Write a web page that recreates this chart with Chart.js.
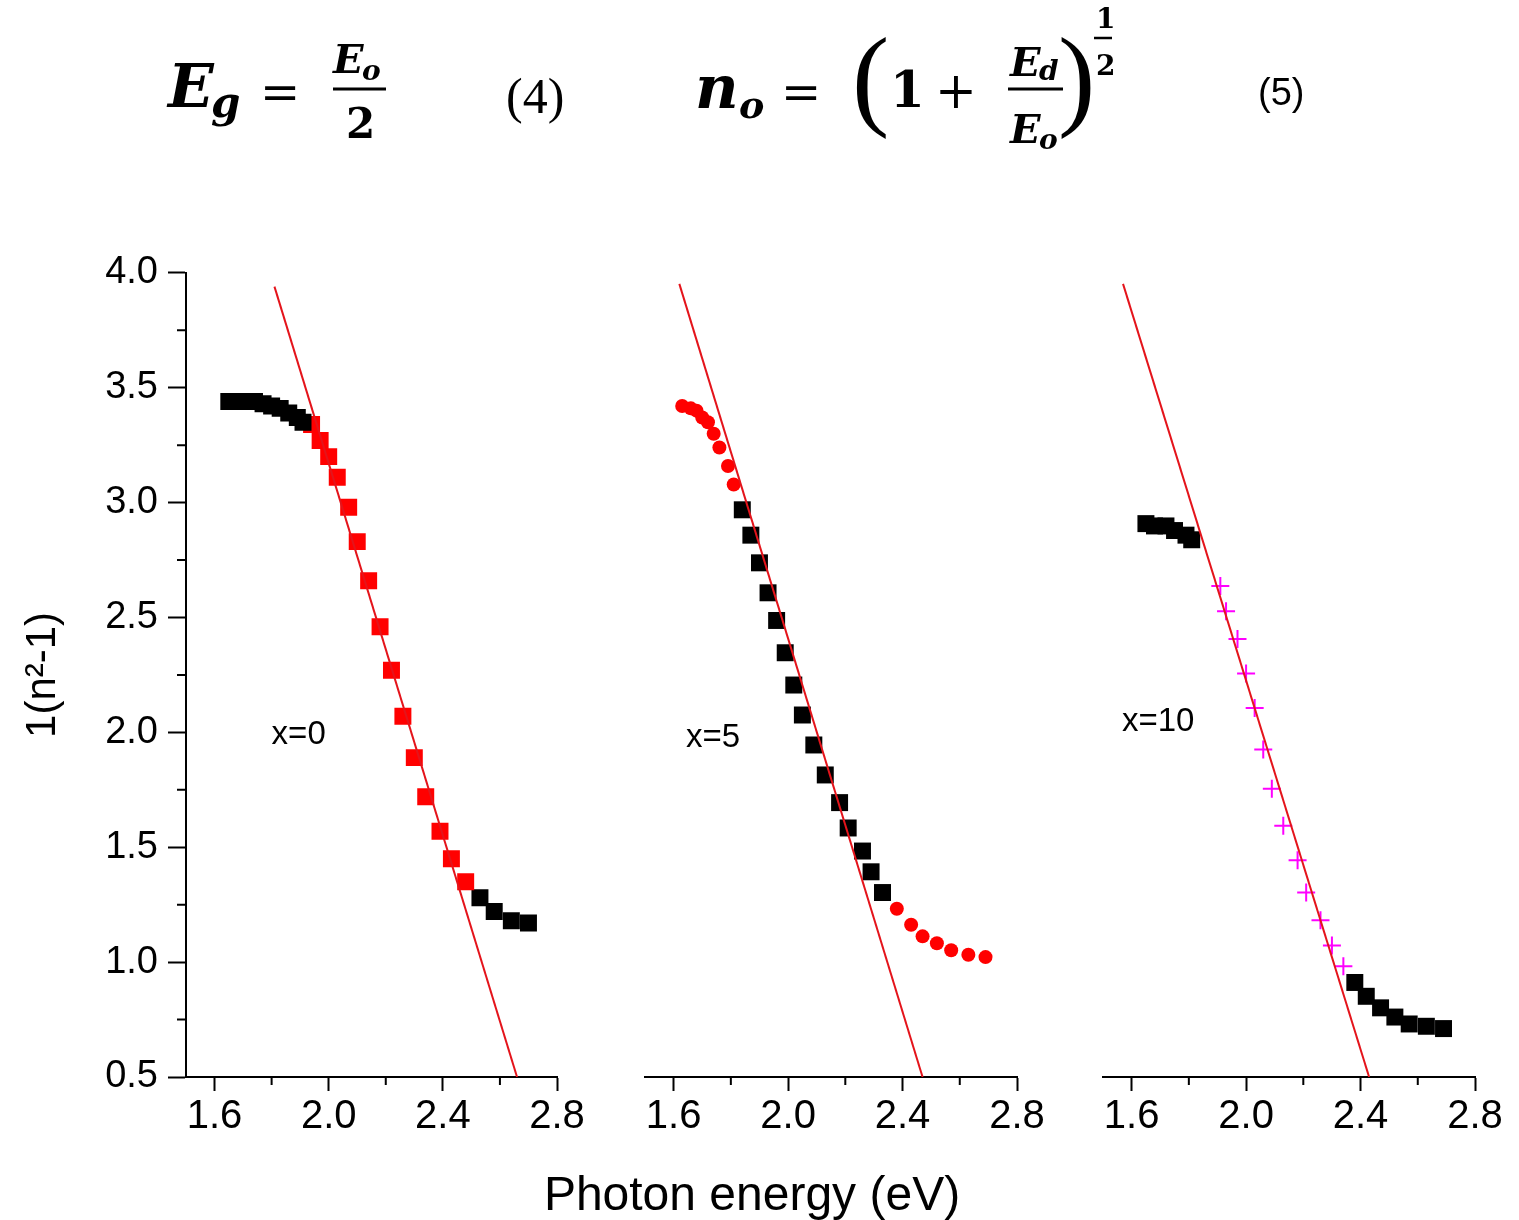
<!DOCTYPE html>
<html>
<head>
<meta charset="utf-8">
<title>1/(n2-1) vs photon energy</title>
<script src="https://cdn.jsdelivr.net/npm/chart.js@4.4.1/dist/chart.umd.min.js"></script>
<style>
  html, body { margin:0; padding:0; background:#fff; }
  #page { position:relative; width:1519px; height:1220px; overflow:hidden; }
  canvas { position:absolute; top:240px; }
  #c0 { left:0; }
  #c5 { left:600px; }
  #c10 { left:1060px; }
  svg { position:absolute; left:0; top:0; }
</style>
</head>
<body>
<div id="page">
<canvas id="c0" width="600" height="900" style="width:600px;height:900px"></canvas>
<canvas id="c5" width="460" height="900" style="width:460px;height:900px"></canvas>
<canvas id="c10" width="459" height="900" style="width:459px;height:900px"></canvas>
<svg width="1519" height="1220" viewBox="0 0 1519 1220">
  <g font-family="'DejaVu Serif', serif" font-weight="bold" fill="#000">
    <text x="168" y="107" font-size="60" font-style="italic">E</text>
    <text x="211" y="117" font-size="42" font-style="italic">g</text>
    <text x="260" y="109" font-size="48" font-weight="normal">=</text>
    <text x="333" y="73" font-size="40" font-style="italic">E</text>
    <text x="362" y="80" font-size="28" font-style="italic">o</text>
    <line x1="333" y1="89" x2="386" y2="89" stroke="#000" stroke-width="3"/>
    <text x="346" y="138" font-size="42">2</text>

    <text x="695" y="108" font-size="60" font-style="italic">n</text>
    <text x="739" y="118" font-size="38" font-style="italic">o</text>
    <text x="781" y="109" font-size="48" font-weight="normal">=</text>
    <text x="890" y="107" font-size="50">1</text>
    <text x="935" y="108" font-size="50" font-weight="normal">+</text>
    <text x="1010" y="76" font-size="40" font-style="italic">E</text>
    <text x="1039" y="80" font-size="28" font-style="italic">d</text>
    <line x1="1008" y1="89" x2="1063" y2="89" stroke="#000" stroke-width="3"/>
    <text x="1010" y="143" font-size="40" font-style="italic">E</text>
    <text x="1039" y="149" font-size="28" font-style="italic">o</text>
    <text x="1096" y="28" font-size="28">1</text>
    <line x1="1094" y1="38" x2="1112" y2="38" stroke="#000" stroke-width="2.5"/>
    <text x="1096" y="75" font-size="28">2</text>
  </g>
  <g font-family="'Liberation Serif', serif" fill="#000">
    <text x="506" y="113" font-size="50">(4)</text>
    <text x="852" y="115" font-size="112">(</text>
    <text x="1058" y="115" font-size="112">)</text>
  </g>
  <text x="1258" y="105" font-family="'Liberation Sans', Arial, sans-serif" font-size="38" fill="#000">(5)</text>
  <text x="752" y="1210" text-anchor="middle" font-family="'Liberation Sans', Arial, sans-serif" font-size="48" fill="#000">Photon energy (eV)</text>
</svg>
</div>
<script>
// axis ticks
const xTicks=[1.6,2.0,2.4,2.8]
const xMinor=[1.8,2.2,2.6]
const yTicks=[0.5,1.0,1.5,2.0,2.5,3.0,3.5,4.0]
const yMinor=[0.75,1.25,1.75,2.25,2.75,3.25,3.75]

// x=0
const blk0aX=[1.65,1.68,1.71,1.74,1.77,1.80,1.83,1.86,1.89,1.91]
const blk0aY=[3.44,3.44,3.44,3.44,3.43,3.42,3.41,3.39,3.37,3.35]
const red0X=[1.94,1.97,2.00,2.03,2.07,2.10,2.14,2.18,2.22,2.26,2.30,2.34,2.39,2.43,2.48]
const red0Y=[3.34,3.27,3.20,3.11,2.98,2.83,2.66,2.46,2.27,2.07,1.89,1.72,1.57,1.45,1.35]
const blk0bX=[2.53,2.58,2.64,2.70]
const blk0bY=[1.28,1.22,1.18,1.17]
const fit0X=[1.81,2.66]
const fit0Y=[3.94,0.5]

// x=5
const red5aX=[1.63,1.66,1.68,1.70,1.72,1.74,1.76,1.79,1.81]
const red5aY=[3.41,3.40,3.39,3.36,3.34,3.29,3.23,3.15,3.07]
const blk5X=[1.84,1.87,1.90,1.93,1.96,1.99,2.02,2.05,2.09,2.13,2.18,2.21,2.26,2.29,2.33]
const blk5Y=[2.96,2.85,2.73,2.60,2.48,2.34,2.20,2.07,1.94,1.81,1.69,1.58,1.48,1.39,1.30]
const red5bX=[2.38,2.43,2.47,2.52,2.57,2.63,2.69]
const red5bY=[1.23,1.16,1.11,1.08,1.05,1.03,1.02]
const fit5X=[1.62,2.47]
const fit5Y=[3.94,0.5]

// x=10
const blk10aX=[1.65,1.68,1.72,1.75,1.79,1.81]
const blk10aY=[2.90,2.89,2.89,2.87,2.85,2.83]
const mag10X=[1.91,1.93,1.97,2.00,2.03,2.06,2.09,2.13,2.18,2.21,2.26,2.30,2.34]
const mag10Y=[2.63,2.52,2.40,2.25,2.10,1.92,1.75,1.59,1.44,1.30,1.18,1.07,0.98]
const blk10bX=[2.38,2.42,2.47,2.52,2.57,2.63,2.69]
const blk10bY=[0.91,0.85,0.80,0.76,0.73,0.72,0.71]
const fit10X=[1.57,2.43]
const fit10Y=[3.94,0.5]

const FONT='"Liberation Sans", Arial, Helvetica, sans-serif'

function pts(xs,ys){
  return xs.map((x,i)=>({x:x,y:ys[i]}))
}

function fitLine(xs,ys){
  return {data:pts(xs,ys),showLine:true,pointRadius:0,borderColor:'#e4141b',borderWidth:2,order:-1}
}
function squares(xs,ys,color){
  return {data:pts(xs,ys),pointStyle:'rect',pointRadius:12,backgroundColor:color,borderWidth:0}
}
function dots(xs,ys,color){
  return {data:pts(xs,ys),pointStyle:'circle',pointRadius:7,backgroundColor:color,borderWidth:0}
}
function crosses(xs,ys,color){
  return {data:pts(xs,ys),pointStyle:'cross',pointRadius:9,borderColor:color,borderWidth:2}
}

// short minor ticks, library has only one tick length
const minorTicks={
  id:'minorTicks',
  afterDraw(chart){
    const ctx=chart.ctx, sx=chart.scales.x, sy=chart.scales.y
    ctx.save()
    ctx.strokeStyle='#000'
    ctx.lineWidth=2
    ctx.beginPath()
    xMinor.forEach(v=>{
      const px=sx.getPixelForValue(v)
      ctx.moveTo(px,sx.top)
      ctx.lineTo(px,sx.top+8)
    })
    if(sy.options.display){
      yMinor.forEach(v=>{
        const py=sy.getPixelForValue(v)
        ctx.moveTo(sy.right,py)
        ctx.lineTo(sy.right-9,py)
      })
    }
    ctx.stroke()
    ctx.restore()
  }
}

const panelLabel={
  id:'panelLabel',
  afterDatasetsDraw(chart,args,opts){
    const ctx=chart.ctx
    ctx.save()
    ctx.font='33px '+FONT
    ctx.fillStyle='#000'
    ctx.textAlign='left'
    ctx.textBaseline='middle'
    ctx.fillText(opts.text,chart.scales.x.getPixelForValue(opts.x),chart.scales.y.getPixelForValue(opts.y))
    ctx.restore()
  }
}

function makeChart(id,datasets,showY,padLeft,padRight,label){
  return new Chart(document.getElementById(id),{
    type:'scatter',
    data:{datasets:datasets},
    plugins:[minorTicks,panelLabel],
    options:{
      responsive:false,
      animation:false,
      events:[],
      layout:{padding:{top:30,left:padLeft,right:padRight,bottom:0}},
      plugins:{
        legend:{display:false},
        tooltip:{enabled:false},
        panelLabel:label
      },
      scales:{
        x:{
          type:'linear',min:1.5,max:2.8,
          afterBuildTicks:s=>{ s.ticks=xTicks.map(v=>({value:v})) },
          afterFit:s=>{ s.height=63 },
          grid:{drawOnChartArea:false,drawTicks:true,tickLength:14,tickWidth:2,tickColor:'#000'},
          border:{display:true,color:'#000',width:2},
          ticks:{color:'#000',padding:2,maxRotation:0,autoSkip:false,font:{family:FONT,size:40},callback:v=>v.toFixed(1)}
        },
        y:{
          type:'linear',min:0.5,max:4.0,display:showY,
          afterBuildTicks:s=>{ s.ticks=yTicks.map(v=>({value:v})) },
          afterFit:s=>{ s.width=showY?186:0 },
          grid:{drawOnChartArea:false,drawTicks:true,tickLength:18,tickWidth:2,tickColor:'#000'},
          border:{display:true,color:'#000',width:2},
          ticks:{color:'#000',padding:10,autoSkip:false,font:{family:FONT,size:38},callback:v=>v.toFixed(1)},
          title:{display:true,text:'1(n²-1)',color:'#000',font:{family:FONT,size:42},padding:{top:18,bottom:0}}
        }
      }
    }
  })
}

makeChart('c0',[
  fitLine(fit0X,fit0Y),
  squares(blk0aX,blk0aY,'#000'),
  squares(red0X,red0Y,'#ff0000'),
  squares(blk0bX,blk0bY,'#000')
],true,0,43,{text:'x=0',x:1.80,y:1.99})

makeChart('c5',[
  fitLine(fit5X,fit5Y),
  dots(red5aX,red5aY,'#ff0000'),
  squares(blk5X,blk5Y,'#000'),
  dots(red5bX,red5bY,'#ff0000')
],false,45,43,{text:'x=5',x:1.643,y:1.97})

makeChart('c10',[
  fitLine(fit10X,fit10Y),
  squares(blk10aX,blk10aY,'#000'),
  crosses(mag10X,mag10Y,'#ff00ff'),
  squares(blk10bX,blk10bY,'#000')
],false,43,44,{text:'x=10',x:1.566,y:2.04})
</script>
</body>
</html>
